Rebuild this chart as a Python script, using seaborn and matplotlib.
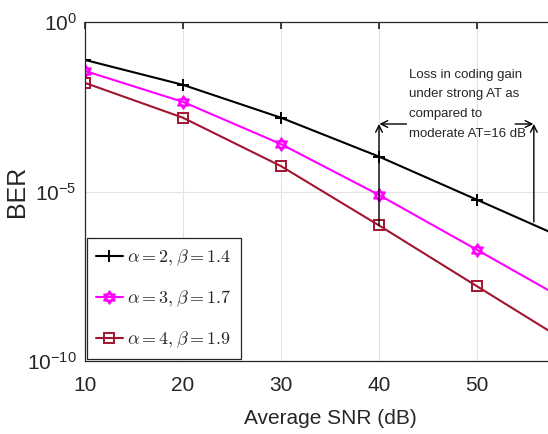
import matplotlib
matplotlib.use("Agg")
from matplotlib import pyplot as plt
import matplotlib.path as mpath
import matplotlib.ticker as mticker
import seaborn as sns
import pandas as pd

# values (BER vs average SNR)
snr = [10, 20, 30, 40, 50, 60]
ber_a2 = [7.6e-2, 1.4e-2, 1.5e-3, 1.07e-4, 5.7e-6, 3.0e-7]
ber_a3 = [3.6e-2, 4.4e-3, 2.5e-4, 7.9e-6, 1.9e-7, 4.4e-9]
ber_a4 = [1.6e-2, 1.5e-3, 5.6e-5, 1.0e-6, 1.6e-8, 2.6e-10]
labels = [r"$\alpha = 2, \beta = 1.4$",
          r"$\alpha = 3, \beta = 1.7$",
          r"$\alpha = 4, \beta = 1.9$"]
x_ticks = [10, 20, 30, 40, 50]
y_ticks = [1e-10, 1e-5, 1e0]
note = "Loss in coding gain\nunder strong AT as\ncompared to\nmoderate AT=16 dB"

# six pointed star (hexagram) marker
M, L, C = mpath.Path.MOVETO, mpath.Path.LINETO, mpath.Path.CLOSEPOLY
hexagram = mpath.Path(
    [(0, 1), (-0.866, -0.5), (0.866, -0.5), (0, 1),
     (0, -1), (0.866, 0.5), (-0.866, 0.5), (0, -1)],
    [M, L, L, C, M, L, L, C])

sns.set_theme(style="whitegrid", rc={
    "grid.color": "#e3e3e3",
    "grid.linewidth": 0.8,
    "axes.edgecolor": "#262626",
    "axes.linewidth": 0.9,
    "xtick.direction": "in",
    "ytick.direction": "in",
    "xtick.color": "#262626",
    "ytick.color": "#262626",
    "xtick.top": True,
    "mathtext.fontset": "cm",
})
plt.rcParams["font.family"] = ["Liberation Sans", "DejaVu Sans"]

fig = plt.figure(figsize=(5.48, 4.34), dpi=100)
ax = fig.add_axes([85 / 548, 73 / 434, 490 / 548, 339 / 434])

series = [
    (ber_a2, "black", "+", 9),
    (ber_a3, "#ff00ff", hexagram, 9),
    (ber_a4, "#a2142f", "s", 6.5),
]
for (vals, col, mk, ms), lab in zip(series, labels):
    df = pd.DataFrame({"snr": snr, "ber": vals})
    sns.lineplot(data=df, x="snr", y="ber", ax=ax, color=col, linewidth=1.5,
                 marker=mk, markersize=ms, markevery=[0, 1, 2, 3, 4],
                 markerfacecolor="none", markeredgecolor=col,
                 markeredgewidth=1.4, label=lab)

ax.set_yscale("log")
ax.set_xlim(10, 60)
ax.set_ylim(1e-10, 1)
ax.set_xticks(x_ticks)
ax.set_yticks(y_ticks)
ax.yaxis.set_minor_locator(mticker.NullLocator())
ax.tick_params(axis="both", labelsize=15, length=5)
ax.tick_params(axis="x", pad=11)
ax.tick_params(axis="y", pad=6)
ax.set_xlabel("Average SNR (dB)", fontsize=15, labelpad=10)
ax.set_ylabel("BER", fontsize=18)
ax.yaxis.set_label_coords(-0.115, 0.5)
ax.grid(True, which="major")

# annotation with arrows
y_arrow = 9.8e-4
arrow = dict(arrowstyle="->", color="black", lw=1.0, mutation_scale=12,
             shrinkA=0, shrinkB=0)
ax.annotate("", xy=(40, y_arrow), xytext=(40, 1.0e-6), arrowprops=arrow)
ax.annotate("", xy=(55.8, y_arrow), xytext=(55.8, 1.26e-6), arrowprops=arrow)
ax.annotate("", xy=(40.05, y_arrow), xytext=(42.8, y_arrow), arrowprops=arrow)
ax.annotate("", xy=(55.75, y_arrow), xytext=(53.9, y_arrow), arrowprops=arrow)
ax.text(43.1, 0.042, note, fontsize=9.5, va="top", ha="left",
        linespacing=1.85)

leg = ax.legend(loc="lower left", bbox_to_anchor=(0, 0), borderaxespad=0.1,
                fontsize=13, labelspacing=1.15, handlelength=1.5,
                handletextpad=0.25, borderpad=0.5, fancybox=False,
                framealpha=1, edgecolor="#262626")
leg.get_frame().set_linewidth(0.9)

fig.savefig("out.png", dpi=100)
